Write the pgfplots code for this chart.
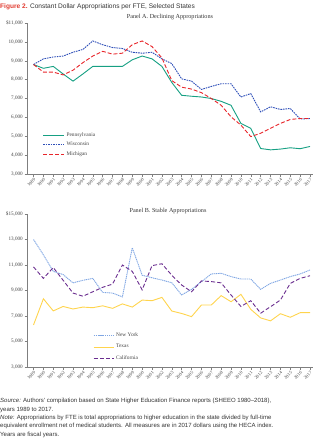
\documentclass[border=0pt]{standalone}
\usepackage{pgfplots}
\pgfplotsset{compat=1.18}
\usepackage{fontspec}
\setmainfont{Liberation Serif}
\newfontfamily\sansf{Liberation Sans}
\definecolor{figred}{HTML}{E03A2F}
\definecolor{txtgray}{HTML}{333333}
\definecolor{labgray}{HTML}{444444}
\definecolor{axgray}{HTML}{7F7F7F}
\definecolor{cPA}{HTML}{16A083}
\definecolor{cWI}{HTML}{2E4FB8}
\definecolor{cMI}{HTML}{E8262B}
\definecolor{cNY}{HTML}{7FA6E3}
\definecolor{cTX}{HTML}{FFD44D}
\definecolor{cCA}{HTML}{6A2D8F}
\begin{document}
\begin{tikzpicture}
\useasboundingbox (0bp,0bp) rectangle (332bp,-440bp);
\pgfplotsset{
  myax/.style={
    scale only axis, width=286bp,
    axis lines*=left, axis line style={-, draw=axgray, line width=0.5bp},
    xmin=1988.34, xmax=2017.3,
    xtick={1989,...,2017},
    scaled y ticks=false, scaled x ticks=false,
    tick style={draw=axgray, line width=0.4bp},
    major tick length=2.5bp,
    tick align=outside,
    /pgf/number format/assume math mode=true,
    x tick label style={rotate=45, anchor=north east, font=\fontsize{4.6}{5}\selectfont, /pgf/number format/1000 sep={}, inner sep=1bp},
    y tick label style={font=\fontsize{5.2}{6}\selectfont, inner sep=1.5bp},
    every tick label/.append style={text=labgray},
    legend style={draw=none, fill=none, font=\fontsize{5.4}{6}\selectfont, text=labgray, inner sep=0pt},
    legend cell align=left,
    clip=false,
    every axis plot/.append style={line width=0.9bp},
  }
}
% Panel A
\begin{axis}[myax, height=151bp, at={(27bp,-174bp)}, anchor=south west,
  ymin=3000, ymax=11000, ytick={3000,4000,...,11000},
  yticklabels={{3,000},{4,000},{5,000},{6,000},{7,000},{8,000},{9,000},{10,000},{\$11,000}},
  legend style={at={(0.054,0.29)}, anchor=north west, row sep=0.5bp},
  legend image code/.code={\draw[#1] (0bp,0bp) -- (21bp,0bp);},
]
\addplot[cPA, solid] coordinates {
(1989,8800)(1990,8600)(1991,8700)(1992,8300)(1993,7920)(1994,8300)(1995,8700)(1996,8700)(1997,8700)(1998,8700)
(1999,9050)(2000,9250)(2001,9100)(2002,8700)(2003,7850)(2004,7170)(2005,7120)(2006,7080)(2007,7000)(2008,6850)
(2009,6640)(2010,5680)(2011,5420)(2012,4350)(2013,4280)(2014,4320)(2015,4390)(2016,4340)(2017,4460)};
\addlegendentry{Pennsylvania}
\addplot[cWI, dash pattern=on 1.6bp off 0.9bp] coordinates {
(1989,8800)(1990,9100)(1991,9200)(1992,9250)(1993,9450)(1994,9600)(1995,10050)(1996,9850)(1997,9700)(1998,9650)
(1999,9450)(2000,9400)(2001,9450)(2002,9100)(2003,8850)(2004,8040)(2005,7920)(2006,7480)(2007,7640)(2008,7780)
(2009,7780)(2010,7080)(2011,7260)(2012,6290)(2013,6560)(2014,6420)(2015,6470)(2016,5910)(2017,5940)};
\addlegendentry{Wisconsin}
\addplot[cMI, dash pattern=on 4bp off 2bp] coordinates {
(1989,8800)(1990,8400)(1991,8400)(1992,8250)(1993,8500)(1994,8900)(1995,9250)(1996,9500)(1997,9350)(1998,9400)
(1999,9850)(2000,10050)(2001,9750)(2002,9150)(2003,7950)(2004,7600)(2005,7500)(2006,7310)(2007,7000)(2008,6640)
(2009,6030)(2010,5590)(2011,4980)(2012,5160)(2013,5420)(2014,5680)(2015,5890)(2016,5940)(2017,5940)};
\addlegendentry{Michigan}
\end{axis}
% Panel B
\begin{axis}[myax, height=153bp, at={(27bp,-367bp)}, anchor=south west,
  ymin=3000, ymax=15000, ytick={3000,5000,...,15000},
  yticklabels={{3,000},{5,000},{7,000},{9,000},{11,000},{13,000},{\$15,000}},
  legend style={at={(0.231,0.235)}, anchor=north west, row sep=2bp},
  legend image code/.code={\draw[#1] (0bp,0bp) -- (20bp,0bp);},
]
\addplot[cNY, dash pattern=on 1.2bp off 0.7bp] coordinates {
(1989,13000)(1990,11800)(1991,10500)(1992,10250)(1993,9600)(1994,9800)(1995,9950)(1996,8850)(1997,8800)(1998,8500)
(1999,12350)(2000,10200)(2001,10000)(2002,9820)(2003,9610)(2004,8650)(2005,9090)(2006,9690)(2007,10300)(2008,10350)
(2009,10090)(2010,9900)(2011,9900)(2012,9090)(2013,9560)(2014,9820)(2015,10090)(2016,10300)(2017,10610)};
\addlegendentry{New York}
\addplot[cTX, solid] coordinates {
(1989,6300)(1990,8350)(1991,7400)(1992,7750)(1993,7550)(1994,7700)(1995,7650)(1996,7800)(1997,7600)(1998,7950)
(1999,7700)(2000,8250)(2001,8200)(2002,8460)(2003,7390)(2004,7200)(2005,6950)(2006,7860)(2007,7860)(2008,8600)
(2009,8120)(2010,8700)(2011,7520)(2012,6850)(2013,6620)(2014,7180)(2015,6900)(2016,7260)(2017,7260)};
\addlegendentry{Texas}
\addplot[cCA, dash pattern=on 4bp off 2.2bp] coordinates {
(1989,10850)(1990,9950)(1991,10800)(1992,9800)(1993,8800)(1994,8550)(1995,8900)(1996,9250)(1997,9500)(1998,11000)
(1999,10500)(2000,9050)(2001,10950)(2002,11100)(2003,10200)(2004,9430)(2005,8900)(2006,9750)(2007,9700)(2008,9600)
(2009,8650)(2010,7750)(2011,8200)(2012,7220)(2013,7730)(2014,8250)(2015,9560)(2016,9950)(2017,10160)};
\addlegendentry{California}
\end{axis}
% Titles
\node[anchor=west, inner sep=0pt, font=\sansf\fontsize{6.6}{8}\selectfont, text=txtgray] at (0bp,-7bp)
  {\textcolor{figred}{\textbf{Figure 2.}} Constant Dollar Appropriations per FTE, Selected States};
\node[inner sep=0pt, font=\fontsize{6.2}{7}\selectfont, text=txtgray] at (170bp,-17bp) {Panel A. Declining Appropriations};
\node[inner sep=0pt, font=\fontsize{6.2}{7}\selectfont, text=txtgray] at (168bp,-211bp) {Panel B. Stable Appropriations};
\node[anchor=north west, inner sep=0pt, align=left, font=\sansf\fontsize{6.05}{8.5}\selectfont, text=txtgray] at (0bp,-398bp)
  {\textit{Source:} Authors' compilation based on State Higher Education Finance reports (SHEEO 1980–2018),\\
   years 1989 to 2017.\\
   \textit{Note:} Appropriations by FTE is total appropriations to higher education in the state divided by full-time\\
   equivalent enrollment net of medical students. All measures are in 2017 dollars using the HECA index.\\
   Years are fiscal years.};
\end{tikzpicture}
\end{document}
